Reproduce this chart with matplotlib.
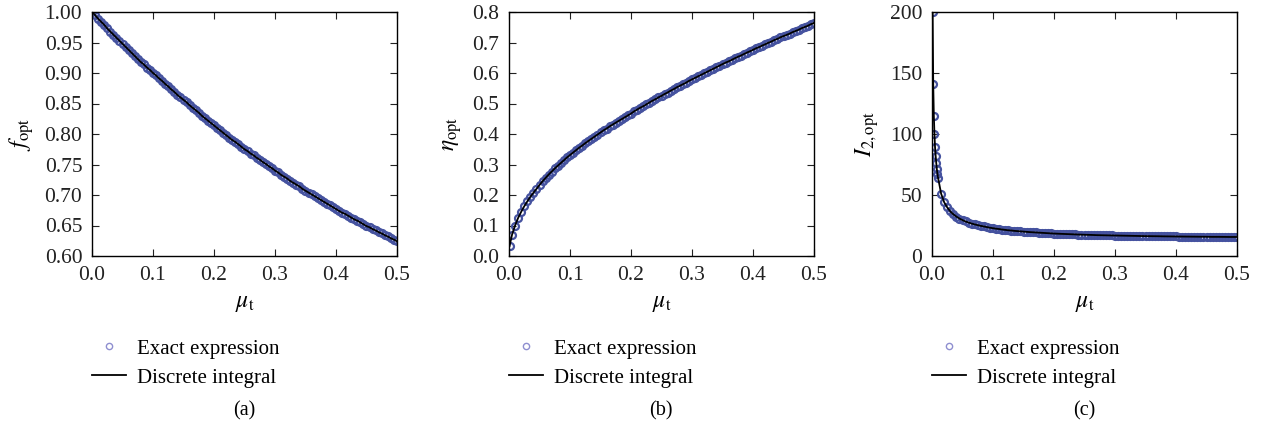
import matplotlib
matplotlib.use("Agg")
from matplotlib import pyplot as plt
import numpy as np

plt.rcParams["font.family"] = ["Liberation Serif", "DejaVu Serif"]
plt.rcParams["mathtext.fontset"] = "stix"

# mu_t grid, step 0.005
mu_grid = np.round(np.arange(0, 101) * 0.005, 3)

# (a) f_opt at mu = 0, 0.005, ..., 0.5
f_opt = [1.000, 0.995, 0.989, 0.984, 0.979, 0.973, 0.968, 0.963, 0.958, 0.953,
         0.948, 0.943, 0.938, 0.933, 0.928, 0.923, 0.918, 0.914, 0.909, 0.905,
         0.900, 0.896, 0.891, 0.887, 0.882, 0.878, 0.873, 0.869, 0.864, 0.860,
         0.856, 0.852, 0.847, 0.843, 0.839, 0.835, 0.830, 0.826, 0.822, 0.818,
         0.814, 0.810, 0.806, 0.802, 0.798, 0.794, 0.790, 0.787, 0.783, 0.779,
         0.775, 0.772, 0.768, 0.765, 0.761, 0.758, 0.754, 0.751, 0.747, 0.744,
         0.740, 0.737, 0.733, 0.730, 0.727, 0.723, 0.720, 0.717, 0.714, 0.710,
         0.707, 0.704, 0.701, 0.698, 0.695, 0.692, 0.689, 0.686, 0.683, 0.680,
         0.677, 0.674, 0.671, 0.669, 0.666, 0.663, 0.660, 0.658, 0.655, 0.652,
         0.649, 0.647, 0.644, 0.642, 0.639, 0.637, 0.634, 0.632, 0.629, 0.627,
         0.624]

# (b) eta_opt at mu = 0.001, then 0.005, 0.010, ..., 0.5
mu_b = [0.001] + list(mu_grid[1:])
eta_opt = [0.033,
           0.070, 0.100, 0.125, 0.145, 0.163, 0.179, 0.194, 0.207, 0.220, 0.233,
           0.245, 0.256, 0.267, 0.277, 0.287, 0.296, 0.305, 0.314, 0.323, 0.331,
           0.339, 0.347, 0.355, 0.362, 0.370, 0.377, 0.384, 0.391, 0.398, 0.405,
           0.412, 0.418, 0.425, 0.431, 0.437, 0.443, 0.449, 0.455, 0.461, 0.467,
           0.474, 0.480, 0.486, 0.491, 0.497, 0.503, 0.509, 0.514, 0.520, 0.525,
           0.531, 0.536, 0.542, 0.547, 0.553, 0.558, 0.563, 0.568, 0.574, 0.579,
           0.584, 0.589, 0.594, 0.599, 0.604, 0.609, 0.614, 0.619, 0.624, 0.629,
           0.634, 0.638, 0.643, 0.648, 0.653, 0.657, 0.662, 0.667, 0.671, 0.676,
           0.681, 0.685, 0.690, 0.694, 0.699, 0.703, 0.708, 0.712, 0.717, 0.721,
           0.725, 0.729, 0.734, 0.738, 0.742, 0.747, 0.751, 0.755, 0.760, 0.764]

# (c) I2_opt at mu = 0.001 ... 0.009, then 0.010, 0.015, ..., 0.5
mu_c = [0.001, 0.002, 0.003, 0.004, 0.005, 0.006, 0.007, 0.008, 0.009] + list(mu_grid[2:])
I2_opt = [200, 141, 115, 100, 89, 82, 76, 71, 67,
          64, 51, 44.0, 39.8, 36.5, 34.2, 32.3, 30.7, 29.4, 28.3,
          27.4, 26.6, 25.9, 25.3, 24.7, 24.2, 23.7, 23.2, 22.8, 22.4,
          22.1, 21.7, 21.4, 21.1, 20.9, 20.6, 20.4, 20.2, 20.0, 19.8,
          19.6, 19.45, 19.3, 19.15, 19.0, 18.85, 18.7, 18.55, 18.4, 18.3,
          18.2, 18.1, 18.0, 17.9, 17.8, 17.7, 17.6, 17.5, 17.4, 17.35,
          17.3, 17.2, 17.1, 17.05, 17.0, 16.95, 16.9, 16.85, 16.8, 16.75,
          16.7, 16.65, 16.6, 16.55, 16.5, 16.45, 16.4, 16.35, 16.3, 16.28,
          16.25, 16.22, 16.2, 16.15, 16.1, 16.08, 16.05, 16.02, 16.0, 15.97,
          15.95, 15.92, 15.9, 15.87, 15.85, 15.82, 15.8, 15.77, 15.75, 15.72,
          15.7, 15.7, 15.7, 15.67, 15.65, 15.62, 15.6, 15.6, 15.6]

x_ticks = [0.0, 0.1, 0.2, 0.3, 0.4, 0.5]

panels = [
    (mu_grid, f_opt, r"$f_{\mathrm{opt}}$", (0.60, 1.00), [0.60, 0.65, 0.70, 0.75, 0.80, 0.85, 0.90, 0.95, 1.00], "%.2f", "(a)"),
    (mu_b, eta_opt, r"$\eta_{\mathrm{opt}}$", (0.0, 0.8), [0.0, 0.1, 0.2, 0.3, 0.4, 0.5, 0.6, 0.7, 0.8], "%.1f", "(b)"),
    (mu_c, I2_opt, r"$I_{2,\mathrm{opt}}$", (0, 200), [0, 50, 100, 150, 200], "%d", "(c)"),
]
lefts = [92, 509, 932]

fig = plt.figure(figsize=(12.63, 4.32), dpi=100)
W, H = 1263, 432
for (x, y, ylab, ylim, yticks, fmt, cap), l in zip(panels, lefts):
    ax = fig.add_axes([l / W, 1 - 256 / H, 305 / W, 244 / H])
    ax.plot(x, y, "o", ms=5.0, mfc="none", mec="#45529f", mew=1.6, label="Exact expression")
    ax.plot(x, y, "-", color="black", lw=1.3, label="Discrete integral")
    ax.set_xlim(0, 0.5)
    ax.set_ylim(*ylim)
    ax.set_xticks(x_ticks)
    ax.set_xticklabels(["%.1f" % t for t in x_ticks])
    ax.set_yticks(yticks)
    ax.set_yticklabels([fmt % t for t in yticks])
    ax.tick_params(direction="in", top=True, right=True, length=5, labelsize=15.5, colors="#222222")
    ax.tick_params(axis="x", pad=7)
    ax.tick_params(axis="y", pad=7)
    for s in ax.spines.values():
        s.set_linewidth(1.0)
    ax.set_xlabel(r"$\mu_{\mathrm{t}}$", fontsize=17, labelpad=6)
    ax.set_ylabel(ylab, fontsize=17, labelpad=6)
    leg = ax.legend(loc="upper left", bbox_to_anchor=(0.0, -0.34), frameon=False,
                    fontsize=15, handlelength=1.65, handletextpad=0.5, labelspacing=0.45,
                    borderaxespad=0, borderpad=0)
    leg.legend_handles[0].set_markeredgecolor("#8f8fd0")
    leg.legend_handles[0].set_markersize(4.5)
    leg.legend_handles[0].set_markeredgewidth(1.0)
    fig.text((l + 152) / W, 1 - 411 / H, cap, ha="center", va="center", fontsize=14.5)

fig.savefig("out.png", dpi=100)
